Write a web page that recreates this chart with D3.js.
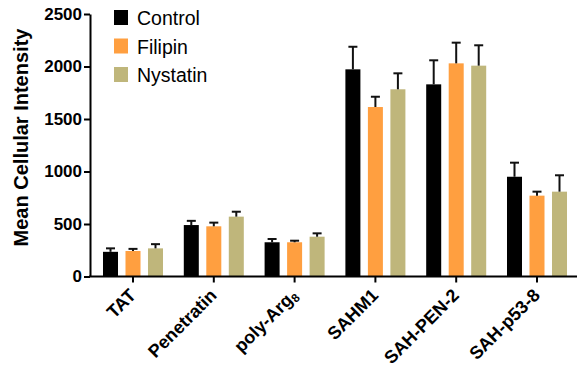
<!DOCTYPE html>
<html>
<head>
<meta charset="utf-8">
<script src="https://cdn.jsdelivr.net/npm/d3@7"></script>
<style>
    body { margin: 0; background: #fff; }
    text { font-family: "Liberation Sans", Arial, sans-serif; }
    .axis path, .axis line { stroke: #000; stroke-width: 2; }
    .axis text { font-size: 17px; font-weight: bold; fill: #000; font-family: "Liberation Sans", Arial, sans-serif; }
</style>
</head>
<body>
<div id="chart"></div>
<script>
var categories = ["TAT", "Penetratin", "poly-Arg8", "SAHM1", "SAH-PEN-2", "SAH-p53-8"];
var seriesNames = ["Control", "Filipin", "Nystatin"];
var control = [235, 490, 326, 1973, 1830, 950];
var controlErr = [33, 40, 31, 215, 229, 134];
var filipin = [243, 478, 326, 1614, 2030, 770];
var filipinErr = [20, 35, 15, 98, 197, 38];
var nystatin = [268, 570, 379, 1783, 2008, 808];
var nystatinErr = [40, 47, 32, 152, 194, 156];
var yTicks = [0, 500, 1000, 1500, 2000, 2500];
var colors = ["#000000", "#ff9f40", "#bfb67b"];

var w = 577, h = 371;
var axisX = 90, y0 = 276.5, yTop = 14;

var svg = d3.select("#chart").append("svg")
    .attr("width", w)
    .attr("height", h);

var y = d3.scaleLinear().domain([0, 2500]).range([y0, yTop]);
var x0 = d3.scaleBand().domain(categories).range([92.6, 577.4]);
var x1 = d3.scaleBand().domain(seriesNames).range([-33.75, 33.75])
    .paddingInner(0.333).paddingOuter(0.1665);

var values = [control, filipin, nystatin];
var errs = [controlErr, filipinErr, nystatinErr];

var rows = [];
seriesNames.forEach(function (s, j) {
    categories.forEach(function (c, i) {
        rows.push({cat: c, series: s, idx: j, v: values[j][i], e: errs[j][i]});
    });
});

// bars
svg.append("g").selectAll("rect")
    .data(rows)
    .enter().append("rect")
    .attr("x", function (d) { return x0(d.cat) + x0.bandwidth() / 2 + x1(d.series); })
    .attr("y", function (d) { return y(d.v); })
    .attr("width", x1.bandwidth())
    .attr("height", function (d) { return y0 - y(d.v); })
    .attr("fill", function (d) { return colors[d.idx]; });

// error bars (upper only)
var eb = svg.append("g").selectAll("g")
    .data(rows)
    .enter().append("g")
    .attr("transform", function (d) {
        return "translate(" + (x0(d.cat) + x0.bandwidth() / 2 + x1(d.series) + x1.bandwidth() / 2) + ",0)";
    });
eb.append("line")
    .attr("y1", function (d) { return y(d.v); })
    .attr("y2", function (d) { return y(d.v + d.e); })
    .attr("stroke", "#111").attr("stroke-width", 2);
eb.append("line")
    .attr("x1", -4.5).attr("x2", 4.5)
    .attr("y1", function (d) { return y(d.v + d.e); })
    .attr("y2", function (d) { return y(d.v + d.e); })
    .attr("stroke", "#111").attr("stroke-width", 2);

// y axis
svg.append("g")
    .attr("class", "axis")
    .attr("transform", "translate(" + axisX + ",0)")
    .call(d3.axisLeft(y).tickValues(yTicks).tickFormat(d3.format("d"))
        .tickSize(6).tickSizeOuter(0).tickPadding(2));

// x axis
var xa = svg.append("g")
    .attr("class", "axis")
    .attr("transform", "translate(0," + y0 + ")")
    .call(d3.axisBottom(x0).tickSize(6).tickSizeOuter(0).tickFormat(""));
xa.select(".domain").remove();
xa.append("line")
    .attr("x1", axisX - 1).attr("x2", w)
    .attr("stroke", "#000").attr("stroke-width", 2);

svg.append("g").selectAll("text")
    .data(categories)
    .enter().append("text")
    .attr("transform", function (d) {
        return "translate(" + (x0(d) + x0.bandwidth() / 2 + 4) + "," + (y0 + 20) + ") rotate(-45)";
    })
    .attr("text-anchor", "end")
    .style("font-size", "18px")
    .style("font-weight", "bold")
    .each(function (d) {
        var t = d3.select(this);
        if (d == "poly-Arg8") {
            t.append("tspan").text("poly-Arg");
            t.append("tspan").text("8").style("font-size", "12px").attr("dy", 3);
        } else {
            t.text(d);
        }
    });

// y title
svg.append("text")
    .attr("transform", "translate(28,137.5) rotate(-90)")
    .attr("text-anchor", "middle")
    .style("font-size", "20px")
    .style("font-weight", "bold")
    .text("Mean Cellular Intensity");

// legend
var lg = svg.append("g").selectAll("g")
    .data(seriesNames)
    .enter().append("g")
    .attr("transform", function (d, i) { return "translate(114," + (10 + i * 28.5) + ")"; });
lg.append("rect")
    .attr("width", 14).attr("height", 15)
    .attr("fill", function (d, i) { return colors[i]; });
lg.append("text")
    .attr("x", 23).attr("y", 15)
    .style("font-size", "19.5px")
    .text(function (d) { return d; });
</script>
</body>
</html>
